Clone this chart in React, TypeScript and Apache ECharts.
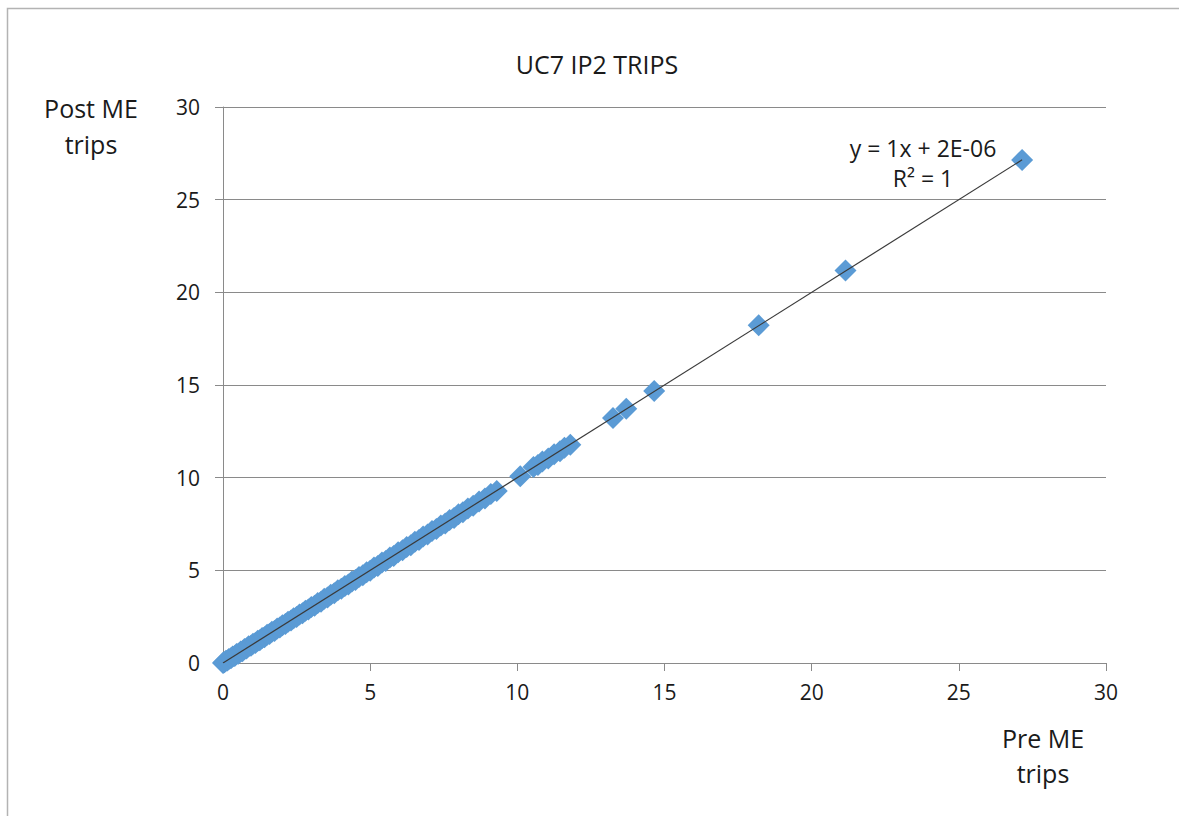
import React, { useEffect, useRef } from "react";
import * as echarts from "echarts";

const titleText = "UC7 IP2 TRIPS";
const xAxisName = ["Pre ME", "trips"];
const yAxisName = ["Post ME", "trips"];
const equationLines = ["y = 1x + 2E-06", "R² = 1"];

const axisMin = 0;
const axisMax = 30;
const axisStep = 5;

const preTrips = [
  0, 0.02, 0.05, 0.1, 0.15, 0.2, 0.27, 0.33, 0.4, 0.46, 0.52, 0.6, 0.66, 0.73, 0.8, 0.87, 0.95,
  1.02, 1.1, 1.18, 1.25, 1.33, 1.41, 1.5, 1.58, 1.66, 1.75, 1.84, 1.93, 2.02, 2.12, 2.21, 2.31,
  2.4, 2.5, 2.6, 2.7, 2.8, 2.9, 3.0, 3.11, 3.22, 3.33, 3.44, 3.55, 3.66, 3.78, 3.9, 4.02, 4.14,
  4.26, 4.38, 4.5, 4.62, 4.75, 4.88, 5.0, 5.13, 5.26, 5.4, 5.53, 5.67, 5.8, 5.95, 6.1, 6.24,
  6.38, 6.52, 6.66, 6.8, 6.95, 7.1, 7.25, 7.4, 7.55, 7.7, 7.85, 8.0, 8.15, 8.32, 8.5, 8.7, 8.9,
  9.1, 9.3, 10.1, 10.55, 10.7, 10.85, 11.05, 11.25, 11.45, 11.6, 11.8, 13.25, 13.7, 14.65, 18.2,
  21.15, 27.15,
];
const postTrips = [
  0, 0.03, 0.04, 0.12, 0.13, 0.22, 0.25, 0.35, 0.38, 0.48, 0.5, 0.62, 0.64, 0.75, 0.78, 0.9, 0.93,
  1.04, 1.08, 1.2, 1.23, 1.35, 1.39, 1.52, 1.56, 1.68, 1.73, 1.86, 1.91, 2.04, 2.1, 2.23, 2.29,
  2.42, 2.48, 2.62, 2.68, 2.82, 2.88, 3.02, 3.09, 3.24, 3.31, 3.46, 3.53, 3.68, 3.76, 3.92, 4.0,
  4.16, 4.24, 4.4, 4.48, 4.64, 4.73, 4.9, 4.98, 5.15, 5.24, 5.42, 5.51, 5.69, 5.78, 5.97, 6.08,
  6.26, 6.36, 6.54, 6.64, 6.82, 6.93, 7.12, 7.23, 7.42, 7.53, 7.72, 7.83, 8.02, 8.13, 8.34, 8.48,
  8.72, 8.88, 9.12, 9.28, 10.08, 10.57, 10.68, 10.87, 11.03, 11.27, 11.43, 11.62, 11.78, 13.22,
  13.72, 14.68, 18.22, 21.18, 27.14,
];

const trendSlope = 1;
const trendIntercept = 2e-6;
const trendX = [0, 27.15];

const FONT = "'Open Sans', 'Noto Sans', sans-serif";
const TEXT_COLOR = "#1a1a1a";
const GRID_COLOR = "#8a8a8a";

export default function App() {
  const ref = useRef<HTMLDivElement>(null);

  useEffect(() => {
    if (!ref.current) return;
    const chart = echarts.init(ref.current, undefined, { renderer: "svg" });
    const points = preTrips.map((x, i) => [x, postTrips[i]]);
    const trend = trendX.map((x) => [x, trendSlope * x + trendIntercept]);

    chart.setOption({
      animation: false,
      backgroundColor: "#ffffff",
      grid: { left: 223, right: 73, top: 107, bottom: 153, containLabel: false },
      xAxis: {
        type: "value",
        min: axisMin,
        max: axisMax,
        interval: axisStep,
        axisLine: { show: true, lineStyle: { color: GRID_COLOR, width: 1 } },
        axisTick: { show: true, length: 8, lineStyle: { color: GRID_COLOR, width: 1 } },
        splitLine: { show: false },
        axisLabel: { color: TEXT_COLOR, fontFamily: FONT, fontSize: 21, margin: 18 },
      },
      yAxis: {
        type: "value",
        min: axisMin,
        max: axisMax,
        interval: axisStep,
        axisLine: { show: true, lineStyle: { color: GRID_COLOR, width: 1 } },
        axisTick: { show: true, length: 8, lineStyle: { color: GRID_COLOR, width: 1 } },
        splitLine: { show: true, lineStyle: { color: GRID_COLOR, width: 1 } },
        axisLabel: { color: TEXT_COLOR, fontFamily: FONT, fontSize: 21, margin: 23 },
      },
      series: [
        {
          type: "scatter",
          data: points,
          symbol: "diamond",
          symbolSize: 22,
          itemStyle: { color: "#5b9bd5", opacity: 1 },
          z: 2,
        },
        {
          type: "line",
          data: trend,
          symbol: "none",
          lineStyle: { color: "#3a3a3a", width: 1.2 },
          z: 3,
        },
      ],
      graphic: [
        {
          type: "rect",
          shape: { x: 7.5, y: 8.5, width: 1400, height: 1000 },
          style: { fill: "none", stroke: "#b3b3b3", lineWidth: 1.5 },
          silent: true,
        },
        {
          type: "text",
          x: 597,
          y: 64,
          style: {
            text: titleText,
            fontFamily: FONT,
            fontSize: 25,
            fill: TEXT_COLOR,
            textAlign: "center",
            textVerticalAlign: "middle",
          },
        },
        {
          type: "text",
          x: 91,
          y: 126,
          style: {
            text: yAxisName.join("\n"),
            fontFamily: FONT,
            fontSize: 25,
            lineHeight: 36,
            fill: TEXT_COLOR,
            textAlign: "center",
            textVerticalAlign: "middle",
          },
        },
        {
          type: "text",
          x: 1043,
          y: 755,
          style: {
            text: xAxisName.join("\n"),
            fontFamily: FONT,
            fontSize: 25,
            lineHeight: 35,
            fill: TEXT_COLOR,
            textAlign: "center",
            textVerticalAlign: "middle",
          },
        },
        {
          type: "text",
          x: 923,
          y: 163,
          style: {
            text: equationLines.join("\n"),
            fontFamily: FONT,
            fontSize: 23,
            lineHeight: 30,
            fill: TEXT_COLOR,
            textAlign: "center",
            textVerticalAlign: "middle",
          },
        },
      ],
    });

    return () => {
      chart.dispose();
    };
  }, []);

  return (
    <div
      ref={ref}
      style={{ position: "absolute", left: 0, top: 0, width: 1179, height: 816 }}
    />
  );
}
